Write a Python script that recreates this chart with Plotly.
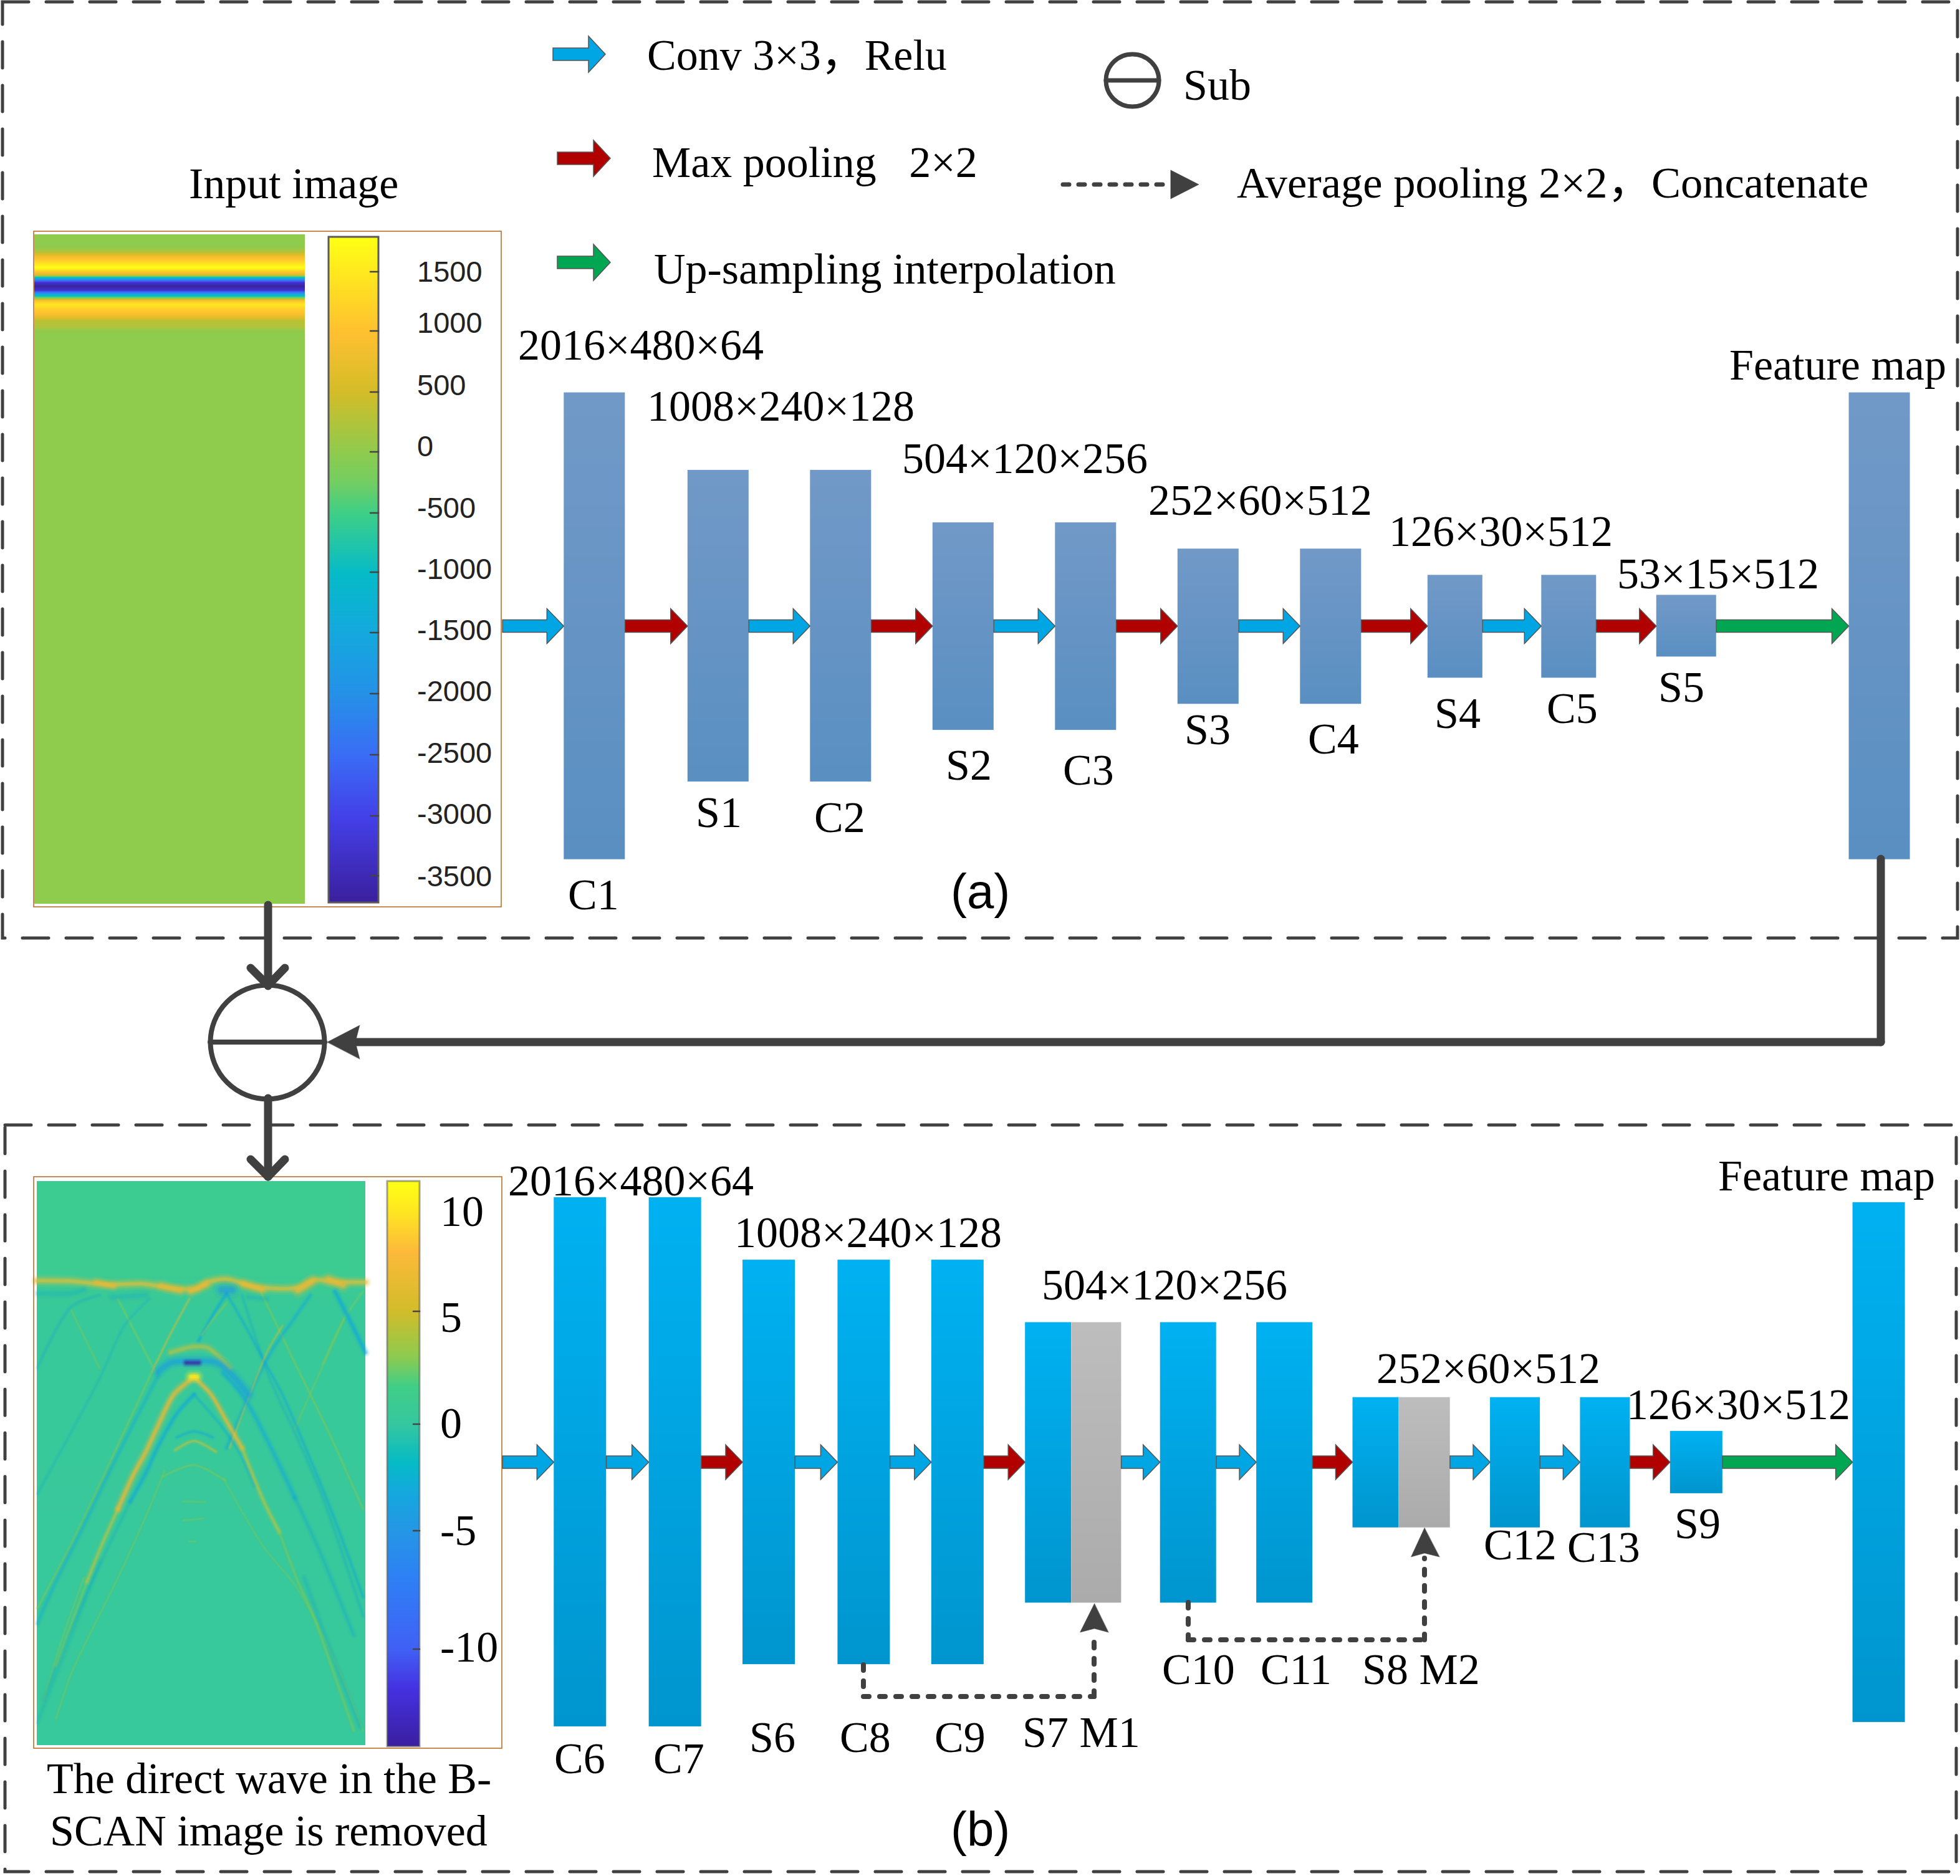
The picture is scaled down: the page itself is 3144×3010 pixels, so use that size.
import plotly.graph_objects as go

W, H = 3144, 3010
S = 3144 / 1568  # reading scale of the block and text tables below
SERIF = "Liberation Serif, Noto Sans CJK SC, serif"
SANS = "Liberation Sans, Arial, sans-serif"
DARK = "#404040"
BLUE, RED, GREEN = "#00A5E3", "#B00000", "#00A651"

# ---- network (a) ----
A_CENTER = 501
A_X0 = [451, 550, 648, 746, 844, 942, 1040, 1142, 1233, 1325, 1479]
A_X1 = [500, 599, 697, 795, 893, 991, 1089, 1186, 1277, 1373, 1528]
A_Y0 = [314, 376, 376, 418, 418, 439, 439, 460, 460, 476, 314]
A_Y1 = [687.5, 625.5, 625.5, 584, 584, 563, 563, 542.5, 542.5, 525.5, 687.5]
A_ARROW_X0 = [402, 500, 599, 697, 795, 893, 991, 1089, 1186, 1277, 1373]
A_ARROW_X1 = [451, 550, 648, 746, 844, 942, 1040, 1142, 1233, 1325, 1479]
A_ARROW_C = [BLUE, RED, BLUE, RED, BLUE, RED, BLUE, RED, BLUE, RED, GREEN]

# ---- network (b) ----
B_CENTER = 1170
B_X0 = [443, 519, 594, 670, 745, 820, 928, 1005, 1082, 1192, 1264, 1336, 1482]
B_X1 = [485, 561, 636, 712, 787, 857, 973, 1050, 1119, 1232, 1304, 1378, 1524]
B_Y0 = [958, 958, 1008, 1008, 1008, 1058, 1058, 1058, 1118, 1118, 1118, 1145, 962]
B_Y1 = [1381.5, 1381.5, 1331.5, 1331.5, 1331.5, 1282.5, 1282.5, 1282.5, 1222, 1222, 1222, 1195, 1378]
GRAY_X0 = [857, 1119]
GRAY_X1 = [897, 1160]
GRAY_Y0 = [1058, 1118]
GRAY_Y1 = [1282.5, 1222]
B_ARROW_X0 = [402, 485, 561, 636, 712, 787, 897, 973, 1050, 1160, 1232, 1304, 1378]
B_ARROW_X1 = [443, 519, 594, 670, 745, 820, 928, 1005, 1082, 1192, 1264, 1336, 1482]
B_ARROW_C = [BLUE, BLUE, RED, BLUE, BLUE, RED, BLUE, BLUE, RED, BLUE, BLUE, RED, GREEN]

# ---- serif labels: left anchored ----
LEFT_TEXT = ["Conv 3×3，Relu", "Max pooling\u00a0\u00a0\u00a02×2", "Up-sampling interpolation", "Sub",
             "Average pooling 2×2，Concatenate", "2016×480×64", "1008×240×128", "504×120×256",
             "252×60×512", "126×30×512", "53×15×512", "Feature map",
             "2016×480×64", "1008×240×128", "504×120×256", "252×60×512", "126×30×512", "Feature map"]
LEFT_X = [516.5, 520.5, 522, 945.5, 988.5, 413.5, 516.5, 720.5, 917.5, 1110, 1292.5, 1382.5,
          405.5, 586.5, 832.5, 1100, 1300, 1373.5]
LEFT_Y = [44, 130, 215, 68, 146, 276, 325, 367, 400, 425, 459, 292, 945, 986, 1028, 1095, 1124, 941]

# ---- serif labels: centred ----
MID_TEXT = ["Input image", "C1", "S1", "C2", "S2", "C3", "S3", "C4", "S4", "C5", "S5",
            "C6", "C7", "S6", "C8", "C9", "S7 M1", "C10", "C11", "S8 M2", "C12", "C13", "S9",
            "The direct wave in the B-", "SCAN image is removed"]
MID_X = [235, 475, 575, 672, 775, 871, 966, 1067, 1166, 1258, 1345,
         464, 543, 618, 692, 768, 865, 959, 1037, 1137, 1216, 1283, 1358, 215, 215]
MID_Y = [147, 716, 650, 654, 612, 616, 584, 591, 571, 567, 550,
         1407, 1407, 1390, 1390, 1390, 1386, 1336, 1336, 1336, 1236, 1238, 1219, 1423, 1465]

# ---- input image (a): rows of amplitude ----
INPUT_Y = [376, 396, 404, 411, 420, 429, 436, 441, 444, 448, 453, 459, 465, 470, 474, 477,
           482, 488, 495, 502, 508, 514, 524, 531, 1450]
INPUT_Z = [0, 0, 300, 800, 1300, 1780, 1050, 500, -700, -2000, -3300, -3650, -3300, -2000, -1000, -300,
           1000, 1500, 1200, 1000, 700, 320, 250, 0, 0]

# ---- colour bar (a) ----
CB_A_VALUES = [-3700, -3000, -2500, -2000, -1500, -1000, -500, -250, 0, 500, 1000, 1790]
CB_A_COLORS = ["#3B1F9E", "#4340E8", "#3A6CF5", "#2590E8", "#14A8DE", "#05BBC8", "#3ECF87", "#72CE62",
               "#8FCB4D", "#D4BC28", "#FFC030", "#FFFF14"]
CB_A_TICKS = [1500, 1000, 500, 0, -500, -1000, -1500, -2000, -2500, -3000, -3500]
CB_A_TICK_Y = [436, 531, 629, 725, 823, 918, 1015, 1113, 1211, 1309, 1405]
CB_A_LABEL_Y = [217, 258, 308, 357, 406, 455, 504, 553, 602, 651, 701]

# ---- colour bar (b) ----
CB_B_VALUES = [-14.8, -12, -10, -7, -5, -3.2, -1.8, 0, 1.7, 3, 5, 8, 11.1]
CB_B_COLORS = ["#3A1FA0", "#4530E0", "#4060F5", "#2E80F5", "#2596E6", "#14A8DE", "#05BBC6", "#35C7A0",
               "#41CE86", "#8DCB4F", "#D2BC2A", "#FDB93A", "#FFFF14"]
CB_B_TICKS = ["10", "5", "0", "-5", "-10"]
CB_B_TICK_Y = [1943, 2104, 2285, 2456, 2646]
CB_B_LABEL_Y = [1943, 2113, 2283, 2455, 2642]

# ---- B-scan background ----
BSCAN_Y = [1895, 2040, 2100, 2800]
BSCAN_Z = [1.0, 1.0, 0.4, 0.3]

# ---- B-scan ridges: points (crop units), colour, opacity, width ----
ORANGE = (245, 185, 50)
OLIVE = (200, 195, 60)
LEAF = (130, 205, 90)
SKY = (15, 165, 225)
RIDGES = [
    # faint crossing diagonals
    ([40, 150, 240], [530, 370, 340], SKY, .25, 4),
    ([150, 240], [380, 530], LEAF, .45, 3),
    ([300, 420], [350, 540], LEAF, .55, 3),
    ([400, 320, 240, 40], [350, 420, 560, 860], SKY, .22, 4),
    ([760, 860, 980, 1090], [330, 500, 700, 900], LEAF, .6, 3),
    ([1030, 930, 870], [400, 580, 690], LEAF, .45, 3),
    ([1090, 1030, 960], [330, 400, 520], LEAF, .5, 3),
    ([700, 790, 870, 960, 1090], [340, 560, 700, 870, 1180], SKY, .3, 4),
    # blue diagonals from the direct wave
    ([650, 600, 560], [335, 400, 460], SKY, .7, 4),
    ([650, 710, 770, 830, 900, 1000, 1090], [335, 420, 510, 600, 730, 930, 1130], SKY, .5, 4),
    ([920, 860, 800, 730, 650], [340, 410, 480, 590, 740], SKY, .5, 5),
    ([1000, 1050, 1098], [330, 410, 490], SKY, .8, 6),
    ([530, 470, 410], [350, 440, 540], OLIVE, .65, 3),
    ([650, 600, 570], [360, 410, 445], LEAF, .6, 3),
    ([830, 780, 730, 660], [420, 490, 590, 740], OLIVE, .5, 3),
    # outer parallel hyperbola
    ([410, 330, 250, 150, 40], [540, 680, 820, 990, 1160], LEAF, .6, 3),
    ([430, 360, 280, 180, 100, 40], [550, 660, 790, 960, 1090, 1200], SKY, .4, 5),
    ([640, 690, 730, 800, 870], [545, 590, 640, 750, 870], SKY, .6, 6),
    ([870, 950, 1060], [870, 1010, 1230], SKY, .35, 5),
    # faint lower hyperbolae
    ([450, 400, 300, 150, 100], [800, 900, 1080, 1330, 1450], LEAF, .45, 3),
    ([640, 770, 880, 1000, 1090], [820, 1000, 1110, 1300, 1480], LEAF, .4, 3),
    ([240, 150, 40], [1040, 1230, 1460], SKY, .2, 5),
    ([900, 980, 1080], [1080, 1260, 1470], SKY, .25, 5),
    ([190, 120, 60], [1080, 1240, 1400], LEAF, .45, 3),
    # blue under main hyperbola
    ([545, 490, 430, 390, 340], [600, 650, 735, 805, 880], SKY, .7, 5),
    ([340, 280, 200, 120, 60], [880, 980, 1120, 1270, 1400], SKY, .22, 4),
    ([545, 600, 650, 690, 740], [600, 650, 700, 750, 840], SKY, .4, 4),
    # main hyperbola: orange near the apex, fading down both sides
    ([100, 150, 200], [1310, 1200, 1090], LEAF, .6, 4),
    ([200, 250, 300], [1090, 990, 900], OLIVE, .75, 5),
    ([300, 350, 390, 430, 480, 545], [900, 810, 750, 680, 600, 555], ORANGE, 1, 7),
    ([545, 600, 650, 700], [555, 600, 670, 740], ORANGE, .95, 6),
    ([700, 770, 820], [740, 880, 960], OLIVE, .75, 5),
    ([820, 880, 930, 1000, 1060], [960, 1090, 1180, 1340, 1480], LEAF, .6, 4),
    # band above the apex and ringing arcs
    ([470, 540, 590, 660], [490, 475, 478, 530], OLIVE, .8, 7),
    ([430, 470, 540, 620, 670, 720], [540, 517, 512, 517, 550, 600], (24, 155, 230), .8, 10),
    ([520, 560], [517, 517], (58, 31, 160), 1, 6),
    ([535, 555], [553, 553], (255, 245, 30), 1, 9),
    ([490, 545, 605], [712, 697, 712], SKY, .5, 4),
    ([485, 545, 615], [745, 722, 750], OLIVE, .7, 4),
    ([445, 545, 645], [815, 785, 825], LEAF, .6, 3),
    ([510, 580], [880, 882], LEAF, .45, 3),
    ([510, 575], [930, 925], LEAF, .45, 3),
    ([530, 550], [985, 985], LEAF, .45, 3),
    # direct wave along the top
    ([38, 150, 260, 380, 480, 550, 590, 650, 740, 880, 930, 1000, 1098],
     [302, 303, 312, 310, 322, 322, 305, 298, 318, 320, 300, 305, 306], (226, 192, 58), 1, 8),
    ([230, 285], [305, 316], ORANGE, .8, 8),
    ([440, 500], [315, 328], ORANGE, .8, 9),
    ([535, 585], [330, 312], ORANGE, .9, 9),
    ([705, 765], [310, 325], ORANGE, .9, 9),
    ([880, 925], [328, 305], ORANGE, .9, 10),
    ([980, 1025], [298, 314], ORANGE, .9, 10),
    ([635, 668], [326, 326], (37, 150, 230), .8, 12),
    ([40, 150, 190], [335, 335, 325], SKY, .28, 8),
    ([280, 390], [345, 340], SKY, .28, 8),
    ([720, 780], [345, 350], SKY, .28, 6),
]


def rx(v):
    return 40 + v / 2.01


def ry(v):
    return 1870 + v / 1.633


def scale_of(values, colors):
    lo, hi = values[0], values[-1]
    return [[(v - lo) / (hi - lo), c] for v, c in zip(values, colors)]


fig = go.Figure()


def vgrad(x0, x1, ys, zs, colorscale, zmin, zmax):
    """Vertical smooth strip; padded so that the cell edges fall exactly on x0/x1 and ys ends."""
    w = x1 - x0
    yy = [ys[0] + .5, ys[0] + 1.5] + list(ys[1:-1]) + [ys[-1] - 1.5, ys[-1] - .5]
    zz = [zs[0], zs[0]] + list(zs[1:-1]) + [zs[-1], zs[-1]]
    fig.add_trace(go.Heatmap(x=[x0 + w / 4, x1 - w / 4], y=yy, z=[[v, v] for v in zz], zmin=zmin, zmax=zmax,
                             colorscale=colorscale, zsmooth="best", showscale=False, hoverinfo="skip"))


def block(x0, x1, y0, y1, top, bot):
    vgrad(x0 * S, x1 * S, [y0 * S, y1 * S], [0, 1], [[0, top], [1, bot]], 0, 1)


CS_A = scale_of(CB_A_VALUES, CB_A_COLORS)
CS_B = scale_of(CB_B_VALUES, CB_B_COLORS)

# images
vgrad(55, 489, INPUT_Y, INPUT_Z, CS_A, CB_A_VALUES[0], CB_A_VALUES[-1])
vgrad(527, 607, [380, 725, 1448], [1790, 0, -3700], CS_A, CB_A_VALUES[0], CB_A_VALUES[-1])
vgrad(59, 586, BSCAN_Y, BSCAN_Z, CS_B, CB_B_VALUES[0], CB_B_VALUES[-1])
vgrad(621, 673, [1895, 1943, 2104, 2285, 2456, 2646, 2802], [11.1, 10, 5, 0, -5, -10, -14.8],
      CS_B, CB_B_VALUES[0], CB_B_VALUES[-1])

# blocks
for a, b, c, d in zip(A_X0, A_X1, A_Y0, A_Y1):
    block(a, b, c, d, "#7199C7", "#5A8FC2")
for a, b, c, d in zip(B_X0, B_X1, B_Y0, B_Y1):
    block(a, b, c, d, "#00B1F1", "#0095CE")
for a, b, c, d in zip(GRAY_X0, GRAY_X1, GRAY_Y0, GRAY_Y1):
    block(a, b, c, d, "#BDBDBD", "#ABABAB")

# ridges, each drawn as soft passes so the edges look blurred like the raster original
for xs, ys, rgb, alpha, wid in RIDGES:
    for k, f in [(2.4, .12), (1.7, .2), (1.1, .3), (.6, .45)]:
        col = f"rgba({rgb[0]},{rgb[1]},{rgb[2]},{alpha * f:.3f})"
        fig.add_trace(go.Scatter(x=[rx(v) for v in xs], y=[ry(v) for v in ys], mode="lines", hoverinfo="skip",
                                 line=dict(color=col, width=wid * k, shape="spline", smoothing=0.8),
                                 showlegend=False))


def line(x0, y0, x1, y1, color=DARK, width=5, dash=None):
    fig.add_shape(type="line", x0=x0, y0=y0, x1=x1, y1=y1, line=dict(color=color, width=width, dash=dash), layer="above")


def poly(points, fill=DARK, lc=DARK, lw=0.5):
    p = "M" + " L".join(f"{x:.1f},{y:.1f}" for x, y in points) + " Z"
    fig.add_shape(type="path", path=p, fillcolor=fill, line=dict(color=lc, width=lw), layer="above")


def block_arrow(x0, x1, y, color, head=27, shaft=10, wing=28):
    poly([(x0, y - shaft), (x1 - head, y - shaft), (x1 - head, y - wing), (x1, y), (x1 - head, y + wing),
          (x1 - head, y + shaft), (x0, y + shaft)], fill=color, lc="#555555", lw=1.5)


# dashed frames
DASH = "42px,28px"
for x0, y0, x1, y1 in [(4, 3, 3140, 1505), (8, 1805, 3138, 3003)]:
    fig.add_shape(type="rect", x0=x0, y0=y0, x1=x1, y1=y1, line=dict(color=DARK, width=5, dash=DASH), layer="below")

# image frames
for x0, y0, x1, y1 in [(54, 371, 804, 1455), (54, 1888, 805, 2805)]:
    fig.add_shape(type="rect", x0=x0, y0=y0, x1=x1, y1=y1, line=dict(color="#B5651D", width=1.5), layer="above")

# colour bar borders and ticks
fig.add_shape(type="rect", x0=527, y0=380, x1=607, y1=1448, line=dict(color="#5A5A5A", width=3), layer="above")
fig.add_shape(type="rect", x0=621, y0=1895, x1=673, y1=2802, line=dict(color="rgba(90,90,90,0.55)", width=3), layer="above")
for y in CB_A_TICK_Y:
    line(594, y, 607, y, "#444444", 2.5)
for y in CB_B_TICK_Y[1:]:
    line(663, y, 673, y, "#444444", 2.5)

# flow arrows
for a, b, c in zip(A_ARROW_X0, A_ARROW_X1, A_ARROW_C):
    block_arrow(a * S, b * S, A_CENTER * S, c)
for a, b, c in zip(B_ARROW_X0, B_ARROW_X1, B_ARROW_C):
    block_arrow(a * S, b * S, B_CENTER * S, c)

# legend arrows
block_arrow(887, 971, 87, BLUE, wing=29)
block_arrow(894, 979, 254, RED, wing=29)
block_arrow(894, 979, 421, GREEN, wing=29)
line(1705, 296, 1878, 296, DARK, 7, "10px,15px")
poly([(1878, 273), (1923, 296), (1878, 319)])

# Sub symbol in legend
fig.add_shape(type="circle", x0=1774, y0=87, x1=1859, y1=171, line=dict(color=DARK, width=7), layer="above")
line(1774, 129, 1859, 129, DARK, 7)

# subtract node and links
fig.add_shape(type="circle", x0=337.5, y0=1580.5, x1=520.5, y1=1763.5, line=dict(color=DARK, width=8), layer="above")
line(337, 1672, 521, 1672, DARK, 8)
line(430, 1452, 430, 1582, DARK, 13)
line(402, 1553, 430, 1581, DARK, 13)
line(457, 1553, 430, 1581, DARK, 13)
line(430, 1762, 430, 1888, DARK, 13)
line(402, 1860, 430, 1888, DARK, 13)
line(457, 1860, 430, 1888, DARK, 13)
line(3017, 1378, 3017, 1672, DARK, 13)
line(3017, 1672, 572, 1672, DARK, 13)
poly([(525, 1672), (577, 1645), (570, 1672), (577, 1699)])

# skip connections
CONN = "9px,17px"
line(1385, 2671, 1385, 2722, DARK, 8, CONN)
line(1385, 2722, 1755, 2722, DARK, 8, CONN)
line(1755, 2722, 1755, 2620, DARK, 8, CONN)
poly([(1755.5, 2573), (1732.5, 2619), (1755.5, 2613), (1778, 2619)])
line(1906, 2571, 1906, 2631, DARK, 8, CONN)
line(1906, 2631, 2285, 2631, DARK, 8, CONN)
line(2285, 2631, 2285, 2500, DARK, 8, CONN)
poly([(2285, 2451.5), (2263.5, 2498), (2285, 2492), (2309, 2498)])


def text(x, y, s, anchor="left", size=70, family=SERIF, color="#000000"):
    fig.add_annotation(x=x, y=y, text=s, showarrow=False, xanchor=anchor, yanchor="middle",
                       font=dict(family=family, size=size, color=color), align=anchor)


for s, x, y in zip(LEFT_TEXT, LEFT_X, LEFT_Y):
    text(x * S, y * S, s, size=70.5 if "Average" in s else 70)
for s, x, y in zip(MID_TEXT, MID_X, MID_Y):
    text(x * S, y * S, s, "center")
text(784 * S, 713 * S, "(a)", "center", 78, SANS)
text(784 * S, 1464 * S, "(b)", "center", 78, SANS)
for v, y in zip(CB_A_TICKS, CB_A_LABEL_Y):
    text(667, y * S, str(v), "left", 47, SANS, "#222222")
for s, y in zip(CB_B_TICKS, CB_B_LABEL_Y):
    text(704, y, s, "left", 70)

fig.update_layout(
    width=W, height=H, margin=dict(l=0, r=0, t=0, b=0), autosize=False,
    paper_bgcolor="white", plot_bgcolor="white", showlegend=False,
    xaxis=dict(range=[0, W], visible=False, fixedrange=True),
    yaxis=dict(range=[H, 0], visible=False, fixedrange=True),
)
POST = ("document.body.style.margin='0';"
        "document.querySelectorAll('.shapelayer path, .scatterlayer path').forEach(function(p){p.style.strokeLinecap='round';});")
fig.write_html("out.html", config=dict(displayModeBar=False), post_script=POST)
